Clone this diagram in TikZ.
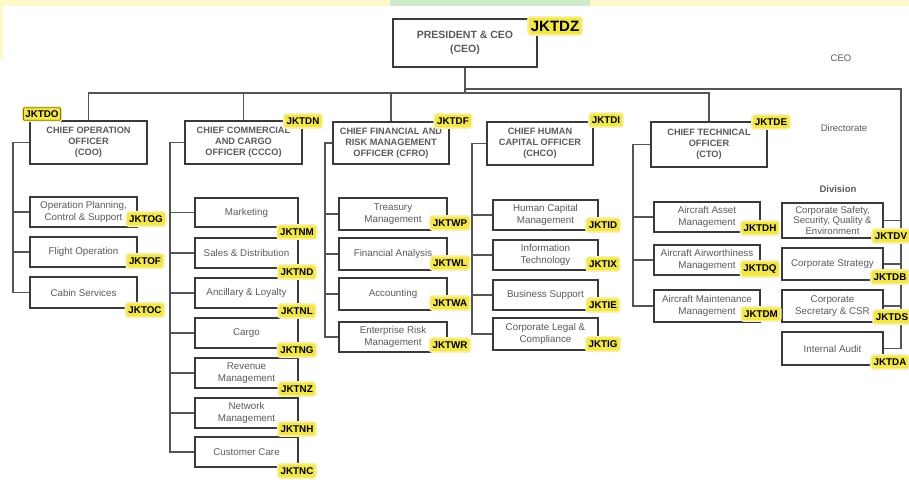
\documentclass[tikz,border=0pt]{standalone}
\usepackage{fontspec}
\setmainfont{Liberation Sans}
\definecolor{ln}{HTML}{3A3A3A}
\definecolor{cn}{HTML}{555555}
\definecolor{tx}{HTML}{5A5A5A}
\definecolor{yel}{HTML}{F2E64C}
\definecolor{glow}{HTML}{F8F1A8}
\definecolor{bandy}{HTML}{FFF8C8}
\definecolor{bandg}{HTML}{CFEBCB}
\definecolor{olive}{HTML}{7A7420}
\tikzset{
  headbox/.style={draw=ln, line width=1.7pt, fill=white, text=tx, align=center,
    font=\fontsize{9.2}{11.2}\selectfont\bfseries, inner sep=1pt},
  subbox/.style={draw=ln, line width=1.4pt, fill=white, text=tx, align=center,
    font=\fontsize{9.8}{11.5}\selectfont, inner sep=0pt},
  tightbox/.style={subbox, font=\fontsize{9.6}{10.4}\selectfont},
  ceobox/.style={draw=ln, line width=1.7pt, fill=white, text=tx, align=center,
    font=\fontsize{10.5}{14}\selectfont\bfseries, inner sep=1pt},
  tag/.style={fill=yel, text=black, font=\fontsize{9.8}{10}\selectfont\bfseries,
    inner xsep=2pt, inner ysep=2.8pt, rounded corners=2pt,
    preaction={draw=glow, line width=3.5pt, rounded corners=3pt}},
  bigtag/.style={tag, font=\fontsize{15}{15}\selectfont\bfseries, inner ysep=3pt},
  conn/.style={draw=cn, line width=1.1pt},
  note/.style={text=tx, font=\fontsize{9.5}{10}\selectfont}
}
\newcommand\mybox[7]{\node[#1, minimum width={(#5-#3)*1pt}, minimum height={(#6-#4)*1pt}] (#2) at ({(#3+#5)/2},{(#4+#6)/2}) {#7};}
\begin{document}
\begin{tikzpicture}[x=1pt,y=-1pt]
\useasboundingbox (0,0) rectangle (909,479);
% watermark band
\fill[bandy] (0,0) rectangle (909,6);
\fill[bandg] (390,0) rectangle (590,6);
\fill[bandy] (0,0) rectangle (3,60);

% CEO
\mybox{ceobox}{ceo}{393}{19}{537}{67}{PRESIDENT \& CEO\\(CEO)}
% heads
\mybox{headbox}{coo}{30}{121}{147}{164}{CHIEF OPERATION\\OFFICER\\(COO)}
\mybox{headbox}{ccco}{185}{121}{302}{164}{CHIEF COMMERCIAL\\AND CARGO\\OFFICER (CCCO)}
\mybox{headbox}{cfro}{333}{122}{449}{164}{CHIEF FINANCIAL AND\\RISK MANAGEMENT\\OFFICER (CFRO)}
\mybox{headbox}{chco}{487}{122}{593}{165}{CHIEF HUMAN\\CAPITAL OFFICER\\(CHCO)}
\mybox{headbox}{cto}{651}{122}{767}{167}{CHIEF TECHNICAL\\OFFICER\\(CTO)}

% COO subs
\mybox{subbox}{op}{30}{197}{137}{227}{Operation Planning,\\Control \& Support}
\mybox{subbox}{fo}{30}{237}{137}{267}{Flight Operation}
\mybox{subbox}{cs}{30}{277}{137}{308}{Cabin Services}
% CCCO subs
\mybox{subbox}{mk}{195}{198}{298}{227}{Marketing}
\mybox{subbox}{sd}{195}{238}{298}{268}{Sales \& Distribution}
\mybox{subbox}{al}{195}{278}{298}{308}{Ancillary \& Loyalty}
\mybox{subbox}{cg}{195}{318}{298}{348}{Cargo}
\mybox{subbox}{rm}{195}{358}{298}{388}{Revenue\\Management}
\mybox{subbox}{nm}{195}{398}{298}{428}{Network\\Management}
\mybox{subbox}{cc}{195}{437}{298}{467}{Customer Care}
% CFRO subs
\mybox{subbox}{tm}{339}{198}{447}{230}{Treasury\\Management}
\mybox{subbox}{fa}{339}{238}{447}{270}{Financial Analysis}
\mybox{subbox}{ac}{339}{278}{447}{310}{Accounting}
\mybox{subbox}{er}{339}{322}{447}{352}{Enterprise Risk\\Management}
% CHCO subs
\mybox{subbox}{hc}{493}{200}{598}{230}{Human Capital\\Management}
\mybox{subbox}{it}{493}{240}{598}{270}{Information\\Technology}
\mybox{subbox}{bs}{493}{280}{598}{310}{Business Support}
\mybox{subbox}{cl}{493}{318}{598}{350}{Corporate Legal \&\\Compliance}
% CTO subs
\mybox{subbox}{aa}{654}{202}{760}{232}{Aircraft Asset\\Management}
\mybox{subbox}{aw}{654}{245}{760}{275}{Aircraft Airworthiness\\Management}
\mybox{subbox}{amm}{654}{290}{760}{322}{Aircraft Maintenance\\Management}
% Division
\mybox{tightbox}{sq}{782}{203}{883}{238}{Corporate Safety,\\Security, Quality \&\\Environment}
\mybox{subbox}{cst}{782}{248}{883}{280}{Corporate Strategy}
\mybox{subbox}{csr}{782}{290}{883}{322}{Corporate\\Secretary \& CSR}
\mybox{subbox}{ia}{782}{332}{883}{365}{Internal Audit}

% notes
\node[note] (nceo) at (841,58) {CEO};
\node[note] (ndir) at (844,128) {Directorate};
\node[note, font=\fontsize{9.5}{10}\selectfont\bfseries] (ndiv) at (838,189) {Division};

% connector coordinates
\coordinate (bus) at (0,93);
\coordinate (rtop) at (901,89);
\coordinate (s1) at (13,0);
\coordinate (s2) at (170,0);
\coordinate (s3) at (325,0);
\coordinate (s4) at (472,0);
\coordinate (s5) at (633,0);

% CEO to bus
\draw[conn] (ceo.south) -- (ceo.south |- bus);
\draw[conn] (coo.north) -- (coo.north |- bus) -- (cto.north |- bus) -- (cto.north);
\draw[conn] (ccco.north) -- (ccco.north |- bus);
\draw[conn] (cfro.north) -- (cfro.north |- bus);
% right line to divisions
\draw[conn] (ceo.south |- rtop) -- (rtop) -- (rtop |- ia.east) -- (ia.east);
\foreach \n in {sq,cst,csr} \draw[conn] (\n.east) -- (\n.east -| rtop);

% spines
\draw[conn] (coo.west) -- (coo.west -| s1) -- (cs.west -| s1) -- (cs.west);
\foreach \n in {op,fo} \draw[conn] (\n.west) -- (\n.west -| s1);
\draw[conn] (ccco.west) -- (ccco.west -| s2) -- (cc.west -| s2) -- (cc.west);
\foreach \n in {mk,sd,al,cg,rm,nm} \draw[conn] (\n.west) -- (\n.west -| s2);
\draw[conn] (cfro.west) -- (cfro.west -| s3) -- (er.west -| s3) -- (er.west);
\foreach \n in {tm,fa,ac} \draw[conn] (\n.west) -- (\n.west -| s3);
\draw[conn] (chco.west) -- (chco.west -| s4) -- (cl.west -| s4) -- (cl.west);
\foreach \n in {hc,it,bs} \draw[conn] (\n.west) -- (\n.west -| s4);
\draw[conn] (cto.west) -- (cto.west -| s5) -- (amm.west -| s5) -- (amm.west);
\foreach \n in {aa,aw} \draw[conn] (\n.west) -- (\n.west -| s5);

% tags
\node[bigtag] (tDZ) at (555,26) {JKTDZ};
\node[tag, draw=olive, line width=0.8pt, rounded corners=1pt] (tDO) at (42,114) {JKTDO};
\node[tag] (tDN) at (303,121) {JKTDN};
\node[tag] (tDF) at (453,121) {JKTDF};
\node[tag] (tDI) at (606,120) {JKTDI};
\node[tag] (tDE) at (771,122) {JKTDE};
\node[tag] (tOG) at (146,219) {JKTOG};
\node[tag] (tOF) at (145,261) {JKTOF};
\node[tag] (tOC) at (145,310) {JKTOC};
\node[tag] (tNM) at (297,232) {JKTNM};
\node[tag] (tND) at (297,272) {JKTND};
\node[tag] (tNL) at (297,311) {JKTNL};
\node[tag] (tNG) at (297,350) {JKTNG};
\node[tag] (tNZ) at (297,389) {JKTNZ};
\node[tag] (tNH) at (297,429) {JKTNH};
\node[tag] (tNC) at (297,471) {JKTNC};
\node[tag] (tWP) at (450,223) {JKTWP};
\node[tag] (tWL) at (450,263) {JKTWL};
\node[tag] (tWA) at (450,303) {JKTWA};
\node[tag] (tWR) at (450,345) {JKTWR};
\node[tag] (tID) at (603,225) {JKTID};
\node[tag] (tIX) at (603,264) {JKTIX};
\node[tag] (tIE) at (603,305) {JKTIE};
\node[tag] (tIG) at (603,344) {JKTIG};
\node[tag] (tDH) at (760,228) {JKTDH};
\node[tag] (tDQ) at (760,269) {JKTDQ};
\node[tag] (tDM) at (761,314) {JKTDM};
\node[tag] (tDV) at (891,236) {JKTDV};
\node[tag] (tDB) at (890,277) {JKTDB};
\node[tag] (tDS) at (892,317) {JKTDS};
\node[tag] (tDA) at (890,362) {JKTDA};
\end{tikzpicture}
\end{document}
